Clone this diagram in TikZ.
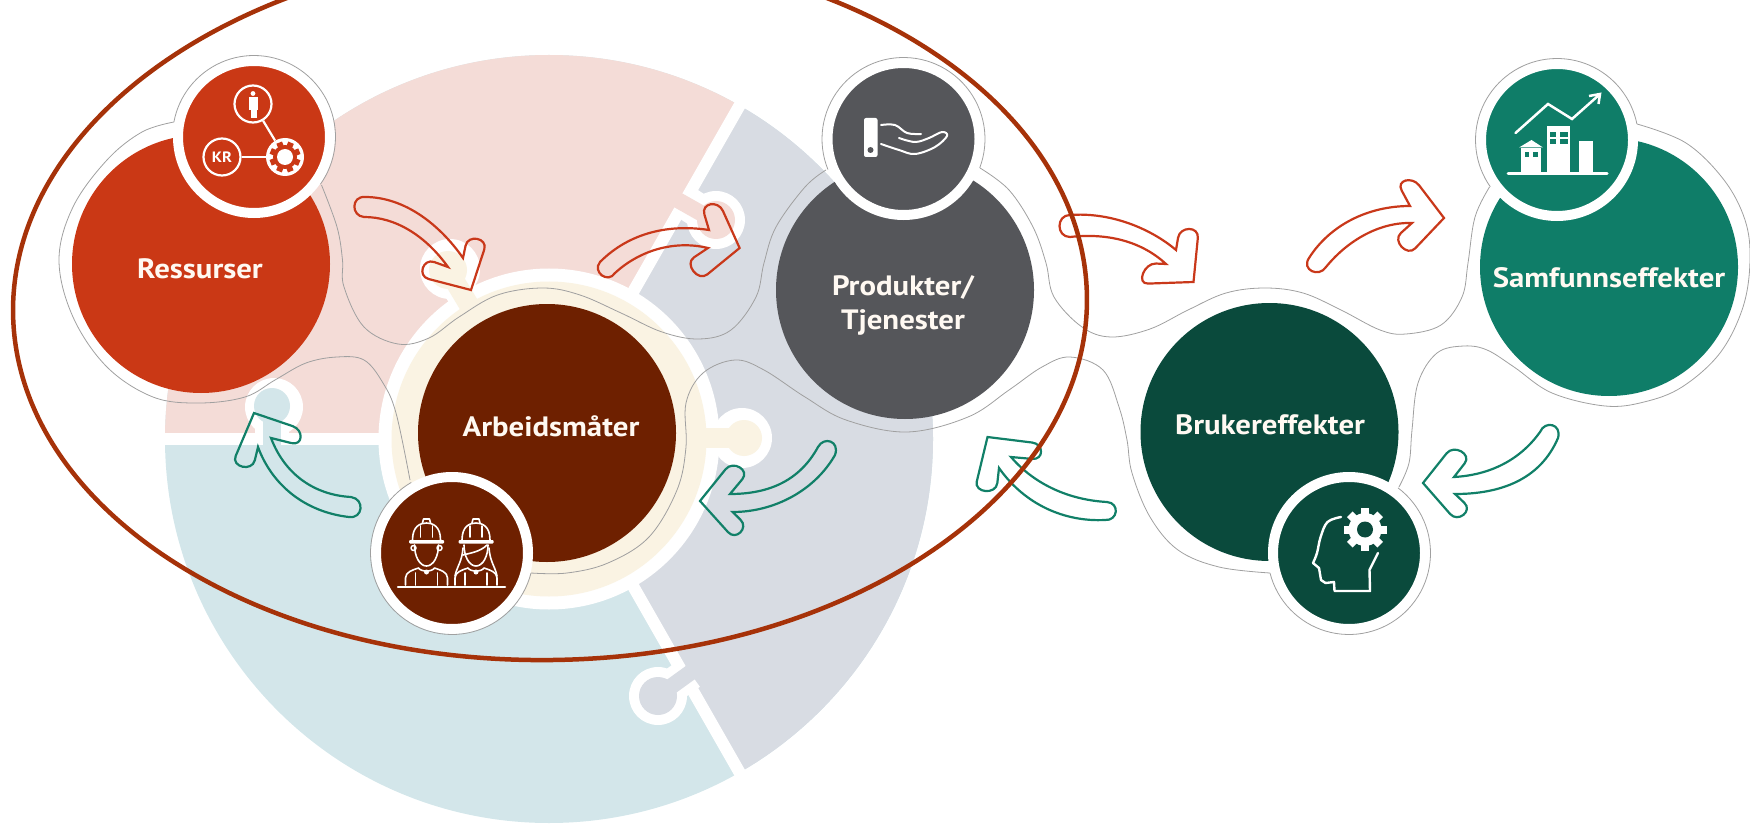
\documentclass[tikz,border=0pt]{standalone}
\usepackage{fontspec}
\setmainfont{PT Sans}
\newfontfamily\labfont[FakeStretch=1.1]{PT Sans}
\usetikzlibrary{shapes.geometric,calc}
\definecolor{cRed}{HTML}{CA3815}
\definecolor{cBrown}{HTML}{6E2000}
\definecolor{cGrey}{HTML}{55565A}
\definecolor{cDark}{HTML}{0A4A3C}
\definecolor{cTeal}{HTML}{0F7D68}
\definecolor{pPink}{HTML}{F4DCD7}
\definecolor{pGrey}{HTML}{D8DCE3}
\definecolor{pBlue}{HTML}{D3E6EA}
\definecolor{pCream}{HTML}{FAF3E3}
\definecolor{cEll}{HTML}{A63209}
\definecolor{aRed}{HTML}{C9381A}
\definecolor{aGreen}{HTML}{118068}
\definecolor{cLine}{HTML}{A0A0A0}
\definecolor{cText}{HTML}{FFF9F2}
\newcommand{\barb}[4]{-- ($(#2)!12pt!(#1)$) .. controls (#2) and (#3) .. ($(#3)!12pt!(#4)$) -- (#4)}
\tikzset{
  mainc/.style={circle,inner sep=0pt,minimum size=258pt},
  iconc/.style={circle,inner sep=0pt,minimum size=152pt,draw=white,line width=10pt},
  lab/.style={inner sep=0pt,text=cText,align=center,font=\fontsize{28}{34}\labfont\bfseries},
  outl/.style={draw=cLine,line width=0.8pt},
  arrR/.style={draw=aRed,line width=2.2pt,line join=miter},
  arrG/.style={draw=aGreen,line width=2.2pt,line join=miter},
  sm/.style={smooth,tension=0.6},
  ic/.style={draw=white,line width=2pt,line cap=round,line join=round},
  ring/.style={circle,inner sep=0pt,minimum size=37pt,draw=white,line width=2.2pt}
}
\begin{document}
\begin{tikzpicture}[x=1pt,y=-1pt]
\useasboundingbox (0,0) rectangle (1750,826);
% ---- puzzle pie
\begin{scope}
\clip (549,439) circle[radius=384];
\fill[pBlue] (100,0) rectangle (1000,900);
\fill[pPink] (549,439) -- (0,439) -- (0,-100) -- (857,-100) -- cycle;
\fill[pGrey] (549,439) -- (857,-100) -- (1100,-100) -- (1100,1000) -- (869,1000) -- cycle;
\end{scope}
% separators
\draw[white,line width=12pt] (160,439) -- (549,439);
\draw[white,line width=12pt] (549,439) -- (745,96);
\draw[white,line width=12pt] (549,439) -- (745,782);
% knobs: pink into grey
\draw[white,line width=34pt] (682,200) -- (713,220);
\fill[white] (716,220) circle[radius=29];
\draw[pPink,line width=16pt] (660,190) -- (713,220);
\fill[pPink] (716,220) circle[radius=19];
% knob: grey into blue
\draw[white,line width=34pt] (690,673) -- (658,696);
\fill[white] (658,696) circle[radius=29];
\draw[pGrey,line width=16pt] (705,662) -- (658,696);
\fill[pGrey] (658,696) circle[radius=19];
% knob: blue into pink
\draw[white,line width=34pt] (272,439) -- (272,406);
\fill[white] (274,407) circle[radius=29];
\draw[pBlue,line width=18pt] (272,452) -- (272,406);
\fill[pBlue] (272,406) circle[radius=18];
% inner cream ring and knobs
\fill[white] (549,439) circle[radius=170.5];
\draw[white,line width=32pt] (472,310) -- (448,270);
\fill[white] (450,269) circle[radius=30];
\draw[white,line width=34pt] (700,438) -- (745,438);
\fill[white] (742,438) circle[radius=30];
\fill[pCream] (549,439) circle[radius=157.5];
\draw[pCream,line width=20pt] (472,310) -- (448,270);
\fill[pCream] (448,270) circle[radius=19];
\draw[pCream,line width=20pt] (695,438) -- (745,438);
\fill[pCream] (744,438) circle[radius=18];
% ---- main circles
\node[mainc,fill=cRed]   (ress) at (201,264) {};
\node[mainc,fill=cBrown] (arb)  at (547,433) {};
\node[mainc,fill=cGrey]  (prod) at (905,290) {};
\node[mainc,fill=cDark]  (bruk) at (1269.5,432) {};
\node[mainc,fill=cTeal]  (samf) at (1609,267) {};
\node[lab] (lRess) at (200,269) {Ressurser};
\node[lab] (lArb)  at (551,426) {Arbeidsmåter};
\node[lab] (lProd) at (903,305) {Produkter/\\Tjenester};
\node[lab] (lBruk) at (1270,425) {Brukereffekter};
\node[lab] (lSamf) at (1609,278) {Samfunnseffekter};
% ---- outline
\draw[outl] plot[sm] coordinates {(321.5,185)(337,227)(342.5,260)(344,287)(364,327)(398,344)(429,338)(459,317)(497.5,295)(543,288)(580,295)(621,313)(662,332)(699,339)(731,330)(756,297)(764,263)(776,227)(805,187)(826,170)};
\draw[outl] plot[sm] coordinates {(980,168)(1009,190)(1033,227)(1046,263)(1054,297)(1082,327)(1111,337)(1150,329)(1188,310)(1226,293)(1265,288)(1303,293)(1341,310)(1380,330)(1406,334)(1441,325)(1462,297)(1468,263)(1475,217)(1489.5,187)};
\draw[outl] plot[sm] coordinates {(1637,124)(1686,143)(1724,180)(1745,220)(1750,260)(1743,307)(1720,353)(1682,387)(1644,402)(1605,406)(1552,393)(1514,367)(1487,350)(1464,346)(1437,353)(1418,383)(1412,430)(1409,463)(1399,487)};
\draw[outl] plot[sm] coordinates {(1270,573)(1219,567)(1178,550)(1150,517)(1132,473)(1127,440)(1119,407)(1103,370)(1070,357)(1042,367)(1009,390)(968,417)(907,432)(846,420)(805,397)(764,370)(735,360)(703,373)(686,403)(686,447)(677,490)(649,537)(608,563)(567,573)(531,573)};
\draw[outl] plot[sm] coordinates {(410,480)(396,413)(383,383)(364,360)(337,357)(306,363)(275,380)(245,397)(199,403)(153,397)(107,367)(73,317)(59,260)(73,207)(107,160)(142,132)(174,122)};
% ---- icon circles
\node[iconc,fill=cRed]   (iRess) at (254,137) {};
\node[iconc,fill=cBrown] (iArb)  at (452,553) {};
\node[iconc,fill=cGrey]  (iProd) at (903.5,139) {};
\node[iconc,fill=cDark]  (iBruk) at (1349,553) {};
\node[iconc,fill=cTeal]  (iSamf) at (1557,140) {};
\draw[outl] plot[domain=190.6:395.4,samples=60] ({254+81.5*cos(\x)},{137+81.5*sin(\x)});
\draw[outl] plot[domain=158:380.8,samples=60] ({903.5+81.5*cos(\x)},{139+81.5*sin(\x)});
\draw[outl] plot[domain=145:348.7,samples=60] ({1557+81.5*cos(\x)},{140+81.5*sin(\x)});
\draw[outl] plot[domain=-53:165.8,samples=60] ({1349+81.5*cos(\x)},{553+81.5*sin(\x)});
\draw[outl] plot[domain=14.3:240,samples=60] ({452+81.5*cos(\x)},{553+81.5*sin(\x)});
% ---- icon: resources
\node[ring,font=\fontsize{15}{15}\labfont\bfseries,text=white] (kr) at (222,157) {KR};
\node[ring] (pers) at (253,104) {};
\node[circle,inner sep=0pt,minimum size=38pt,fill=white] (gearR) at (285,157) {};
\draw[white,line width=2.2pt] (kr) -- (gearR);
\draw[white,line width=2.2pt] (pers) -- (gearR);
\fill[cRed] (gearR.center) circle[radius=12];
\foreach \a in {0,45,...,135}{\fill[cRed,shift={(285,157)},rotate=\a+22] (-3,-15.5) rectangle (3,15.5);}
\fill[white] (gearR.center) circle[radius=8];
\fill[white] (253,93.5) circle[radius=2.4];
\fill[white] (249,97.5) rectangle (258,110);
\fill[white] (250.5,110) rectangle (256.5,118);
% ---- icon: hand
\fill[white,rounded corners=2pt] (864,118) rectangle (877.5,157);
\fill[cGrey] (870.5,150) circle[radius=3];
\draw[ic] plot[sm] coordinates {(881,125)(895,125)(907,133)(921,134)};
\draw[ic] plot[sm] coordinates {(899,138)(915,142)(929,138)(942,132)(947,136)(935,147)(915,154)(899,150)(881,144)};
% ---- icon: buildings
\draw[white,line width=3pt,line cap=round] (1508,174) -- (1607,174);
\fill[white] (1521,148) rectangle (1541,173);
\fill[white] (1519,147.5) -- (1531.5,140) -- (1543,147.5) -- cycle;
\fill[cTeal] (1525,152) rectangle (1529,157);
\fill[cTeal] (1533,152) rectangle (1538,157);
\fill[white] (1547,126) rectangle (1570,173);
\foreach \xa/\xb in {1550/1556,1560/1568}{
  \fill[cTeal] (\xa,132) rectangle (\xb,137);
  \fill[cTeal] (\xa,139) rectangle (\xb,144);
}
\fill[white] (1579,141) rectangle (1593,173);
\draw[white,line width=2.5pt,line cap=round,line join=miter] (1515.5,133) -- (1548,104) -- (1572,119) -- (1599,95);
\draw[white,line width=2.5pt,line join=miter] (1589,96) -- (1600,94) -- (1598.5,104);
% ---- icon: workers
\draw[white,line width=2.5pt,line cap=round] (398,587) -- (505,587);
\foreach \cx/\hair in {426.5/0,476/1}{
\begin{scope}[shift={(\cx,0)}]
  \draw[ic,line width=1.6pt] (-14,540) .. controls (-14,526) and (-6,523) .. (0,523) .. controls (6,523) and (14,526) .. (14,540);
  \draw[ic,line width=1.6pt] (-4,523) -- (-3,519) -- (3,519) -- (4,523);
  \draw[ic,line width=1.6pt] (-6,526) -- (-6,537) (6,526) -- (6,537);
  \fill[white,rounded corners=1pt] (-17.5,540) rectangle (17.5,543.5);
  \draw[ic,line width=1.6pt] (-12,545) .. controls (-12,556) and (-7,566) .. (0,566) .. controls (7,566) and (12,556) .. (12,545);
  \draw[ic,line width=1.6pt] (-21,585) -- (-21,578) .. controls (-21,572) and (-14,570) .. (-8,568) .. controls (-6,572) and (6,572) .. (8,568) .. controls (14,570) and (21,572) .. (21,578) -- (21,585);
  \draw[ic,line width=1.6pt] (-11,573) -- (-11,585) (11,573) -- (11,585);
  \fill[white] (0,572) circle[radius=2.5];
  \ifnum\hair=0
    \draw[ic,line width=1.5pt] (-13,548) circle[radius=2.5] (13,548) circle[radius=2.5];
  \else
    \draw[ic,line width=1.6pt] (-13,555) .. controls (-6,553) and (4,552) .. (11,545);
    \draw[ic,line width=1.6pt] (13,548) .. controls (14,562) and (19,566) .. (21,576);
    \draw[ic,line width=1.6pt] (-13,548) .. controls (-14,562) and (-19,566) .. (-21,576);
  \fi
\end{scope}
}
% ---- icon: head and gear
\draw[ic,line width=2.4pt] plot[sm] coordinates {(1341,517)(1327.5,522)(1320.6,537)(1317,553)(1313,563)} -- (1319,568) -- (1321,580) -- (1325.5,583) -- (1334,582) -- (1334.5,591) -- (1370,591) -- (1369.5,570) -- (1378,553);
\foreach \a in {0,45,...,135}{\fill[white,shift={(1365,529.5)},rotate=\a] (-4,-21.5) rectangle (4,21.5);}
\fill[white] (1365,529.5) circle[radius=16.5];
\fill[cDark] (1365,529.5) circle[radius=8];
% ---- block arrows
\draw[arrR] (365,197) .. controls (405,197) and (440,225) .. (463,258) \barb{463,258}{468,234}{488,238}{471,290} \barb{471,290}{417,276}{423,258}{448,267} .. controls (425,235) and (395,217) .. (364,217) .. controls (351,216) and (351,196) .. (365,197) -- cycle;
\draw[arrR] (600,262) .. controls (630,232) and (670,224) .. (709,230) \barb{709,230}{701,203}{718,200}{739.6,248} \barb{739.6,248}{698,282}{684,264}{708,248} .. controls (675,240) and (640,250) .. (615,273) .. controls (608,284) and (592,272) .. (600,262) -- cycle;
\draw[arrR] (1070,215) .. controls (1110,212) and (1150,228) .. (1176,250) \barb{1176,250}{1180,226}{1199,226}{1193.5,282} \barb{1193.5,282}{1136,284}{1144,263}{1166,264} .. controls (1140,240) and (1105,233) .. (1070,237) .. controls (1056,237) and (1056,215) .. (1070,215) -- cycle;
\draw[arrR] (1309,258) .. controls (1330,225) and (1368,206) .. (1410,206) \barb{1410,206}{1396,180}{1412,176}{1444,218} \barb{1444,218}{1407,257}{1392,241}{1412,223} .. controls (1380,222) and (1348,240) .. (1326,267) .. controls (1319,278) and (1301,270) .. (1309,258) -- cycle;
\draw[arrG] (1540,432) .. controls (1520,460) and (1490,475) .. (1454,477) \barb{1454,477}{1472,454}{1454,444}{1423,483} \barb{1423,483}{1458,523}{1473,511}{1455,494} .. controls (1500,494) and (1540,480) .. (1558,438) .. controls (1562,424) and (1545,420) .. (1540,432) -- cycle;
\draw[arrG] (1107,502) .. controls (1070,500) and (1035,485) .. (1011,457) \barb{1011,457}{1044,460}{1044,444}{987.5,437} \barb{987.5,437}{974,493}{996,495}{999,468} .. controls (1025,505) and (1065,522) .. (1105,520) .. controls (1118,521) and (1120,503) .. (1107,502) -- cycle;
\draw[arrG] (818,447) .. controls (800,480) and (770,494) .. (730,494) \barb{730,494}{750,470}{733,460}{700,501} \barb{700,501}{736,541}{749,528}{732.6,512} .. controls (775,512) and (815,490) .. (835,455) .. controls (840,441) and (824,436) .. (818,447) -- cycle;
\draw[arrG] (351,497) .. controls (315,495) and (285,475) .. (271,438) \barb{271,438}{303,446}{304,430}{254,413} \barb{254,413}{231,467}{252,472}{258,447} .. controls (272,485) and (305,512) .. (349,517) .. controls (363,519) and (365,499) .. (351,497) -- cycle;
% ---- big ellipse
\node[ellipse,draw=cEll,line width=4.5pt,inner sep=0pt,minimum width=1074pt,minimum height=710pt,rotate=1] (focus) at (550,305) {};
\end{tikzpicture}
\end{document}
